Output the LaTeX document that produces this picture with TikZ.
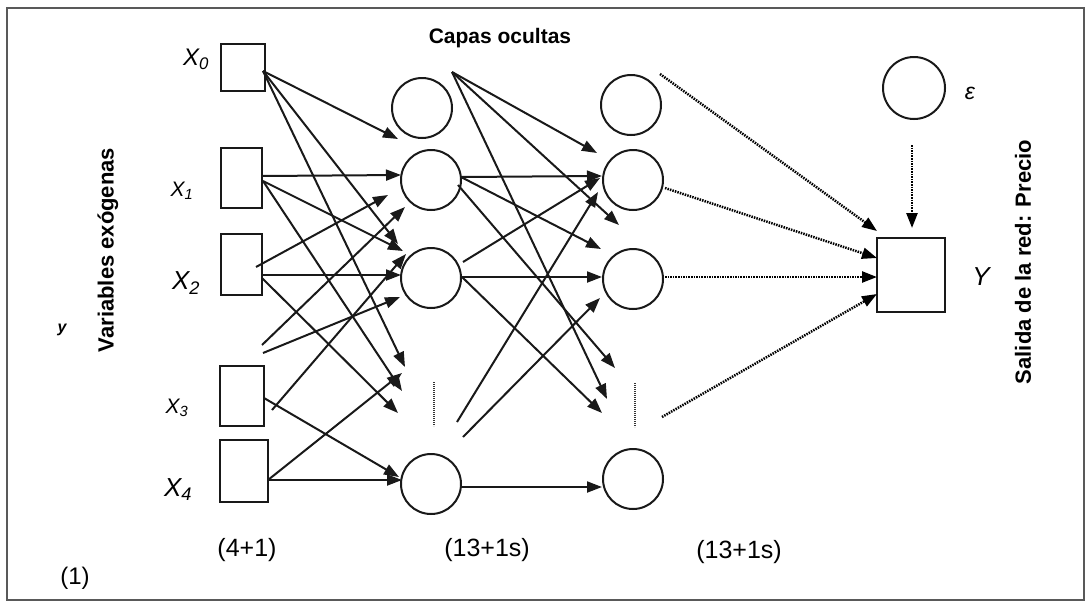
\documentclass[tikz,border=0pt]{standalone}
\usepackage{fontspec}
\setmainfont{Liberation Sans}
\usetikzlibrary{arrows.meta}

\begin{document}
\begin{tikzpicture}[x=1pt,y=-1pt,
  tip/.style={-{Triangle[length=15pt,width=11pt]}},
  conn/.style={line width=2pt, black!90, tip},
  dotconn/.style={line width=2.5pt, black, dash pattern=on 1.5pt off 1.1pt, tip},
  sep/.style={line width=1.6pt, dash pattern=on 1.2pt off 0.8pt, black!80},
  inbox/.style={draw, line width=2pt, black!90, inner sep=0pt},
  neuron/.style={draw, circle, line width=2pt, black!90, minimum size=60pt, inner sep=0pt},
  title/.style={font=\fontsize{21}{24}\selectfont\bfseries, inner sep=0pt},
  count/.style={font=\fontsize{25}{28}\selectfont, inner sep=0pt},
  varlab/.style={font=\itshape, inner sep=0pt}
]
\useasboundingbox (0,0) rectangle (1091,608);
\draw[line width=2.2pt, black!65] (7,8) rectangle (1084,600);

% input boxes
\node[inbox, minimum width=44pt, minimum height=47pt] (x0) at (243,67.5) {};
\node[inbox, minimum width=41pt, minimum height=60pt] (x1) at (241.5,178) {};
\node[inbox, minimum width=41pt, minimum height=61pt] (x2) at (241.5,264.5) {};
\node[inbox, minimum width=44pt, minimum height=60pt] (x3) at (242,396) {};
\node[inbox, minimum width=48pt, minimum height=62pt] (x4) at (244,471) {};

% input labels
\node[varlab, font=\fontsize{24}{26}\selectfont\itshape] (lx0) at (196,59) {X\textsubscript{0}};
\node[varlab, font=\fontsize{21}{24}\selectfont\itshape] (lx1) at (182,191) {X\textsubscript{1}};
\node[varlab, font=\fontsize{26}{28}\selectfont\itshape] (lx2) at (186,283) {X\textsubscript{2}};
\node[varlab, font=\fontsize{21}{24}\selectfont\itshape] (lx3) at (177,408) {X\textsubscript{3}};
\node[varlab, font=\fontsize{26}{28}\selectfont\itshape] (lx4) at (178,490) {X\textsubscript{4}};

% hidden layers
\node[neuron] (h10) at (422,108) {};
\node[neuron] (h11) at (431,180) {};
\node[neuron] (h12) at (431,278) {};
\node[neuron] (h13) at (431,484) {};
\node[neuron] (h20) at (631,105) {};
\node[neuron] (h21) at (633,180) {};
\node[neuron] (h22) at (633,279) {};
\node[neuron] (h23) at (633,479) {};

% output and error term
\node[neuron, minimum size=62pt] (eps) at (914,88) {};
\node[inbox, minimum width=68pt, minimum height=74pt] (out) at (911,275) {};
\node[varlab, font=\fontsize{23}{25}\selectfont\itshape] (leps) at (970,93) {ε};
\node[varlab, font=\fontsize{26}{28}\selectfont\itshape] (lout) at (981,277) {Y};

% elided neurons
\coordinate (dA1) at (434,382); \coordinate (dA2) at (434,426);
\coordinate (dB1) at (635,383); \coordinate (dB2) at (635,427);
\draw[sep] (dA1) -- (dA2);
\draw[sep] (dB1) -- (dB2);

% start points, input side
\coordinate (s0) at (263,71);
\coordinate (s1) at (262,176);
\coordinate (s1b) at (263,181);
\coordinate (s2a) at (256,267);
\coordinate (s2) at (262,275);
\coordinate (s2b) at (262,278);
\coordinate (f1) at (262,345);
\coordinate (f2) at (263,353);
\coordinate (s3) at (264,398);
\coordinate (s3b) at (272,410);
\coordinate (s4) at (268,480);

% arrow tips, first hidden layer
\coordinate (a01) at (398,139);
\coordinate (a11) at (401,175);
\coordinate (a21) at (388,195);
\coordinate (af1) at (405,207);
\coordinate (a02) at (398,244);
\coordinate (a12) at (403,251);
\coordinate (a32) at (406,254);
\coordinate (a22) at (401,275);
\coordinate (af2) at (400,297);
\coordinate (d0) at (405,367);
\coordinate (d4) at (402,373);
\coordinate (d1) at (402,391);
\coordinate (d2) at (398,413);
\coordinate (a33) at (399,477);
\coordinate (a43) at (402,480);

\draw[conn] (s0) -- (a01);
\draw[conn] (s0) -- (a02);
\draw[conn] (s0) -- (d0);
\draw[conn] (s1) -- (a11);
\draw[conn] (s1b) -- (a12);
\draw[conn] (s1b) -- (d1);
\draw[conn] (s2a) -- (a21);
\draw[conn] (s2) -- (a22);
\draw[conn] (s2b) -- (d2);
\draw[conn] (f1) -- (af1);
\draw[conn] (f2) -- (af2);
\draw[conn] (s3) -- (a33);
\draw[conn] (s3b) -- (a32);
\draw[conn] (s4) -- (a43);
\draw[conn] (s4) -- (d4);

% start points, between hidden layers
\coordinate (t0) at (452,72);
\coordinate (h1s) at (461,177);
\coordinate (h1t) at (458,185);
\coordinate (h2s) at (462,277);
\coordinate (h2u) at (463,262);
\coordinate (f3) at (457,422);
\coordinate (f4) at (463,437);
\coordinate (h3s) at (461,487);

% arrow tips, second hidden layer
\coordinate (b01) at (597,153);
\coordinate (b11) at (602,176);
\coordinate (b21) at (600,178);
\coordinate (bf3) at (598,192);
\coordinate (b0x) at (619,225);
\coordinate (b12) at (601,249);
\coordinate (b22) at (602,277);
\coordinate (bf4) at (600,298);
\coordinate (e1) at (615,368);
\coordinate (e0) at (607,399);
\coordinate (e2) at (602,413);
\coordinate (b33) at (602,487);

\draw[conn] (t0) -- (b01);
\draw[conn] (t0) -- (b0x);
\draw[conn] (t0) -- (e0);
\draw[conn] (h1s) -- (b11);
\draw[conn] (h1s) -- (b12);
\draw[conn] (h1t) -- (e1);
\draw[conn] (h2s) -- (b22);
\draw[conn] (h2s) -- (e2);
\draw[conn] (h2u) -- (b21);
\draw[conn] (f3) -- (bf3);
\draw[conn] (f4) -- (bf4);
\draw[conn] (h3s) -- (b33);

% dotted links to the output
\coordinate (o0) at (660,74);   \coordinate (p0) at (877,231);
\coordinate (o1) at (665,188);  \coordinate (p1) at (877,258);
\coordinate (o2) at (665,277);  \coordinate (p2) at (877,277);
\coordinate (o3) at (662,417);  \coordinate (p3) at (877,294);
\coordinate (q0) at (912,145);  \coordinate (q1) at (912,228);
\draw[dotconn] (o0) -- (p0);
\draw[dotconn] (o1) -- (p1);
\draw[dotconn] (o2) -- (p2);
\draw[dotconn] (o3) -- (p3);
\draw[dotconn] (q0) -- (q1);

% captions
\node[title] (capas) at (500,38) {Capas ocultas};
\node[title, font=\fontsize{22}{24}\selectfont\bfseries, rotate=90] (vars) at (108,250) {Variables exógenas};
\node[title, font=\fontsize{22}{24}\selectfont\bfseries, rotate=90] (salida) at (1023,262) {Salida de la red: Precio};
\node[font=\fontsize{16}{18}\selectfont\bfseries\itshape, inner sep=0pt] (ly) at (62,330) {y};
\node[count] (c1) at (247,550) {(4+1)};
\node[count] (c2) at (487,550) {(13+1s)};
\node[count] (c3) at (739,552) {(13+1s)};
\node[count, font=\fontsize{24}{26}\selectfont] (c4) at (75,578) {(1)};
\end{tikzpicture}
\end{document}
